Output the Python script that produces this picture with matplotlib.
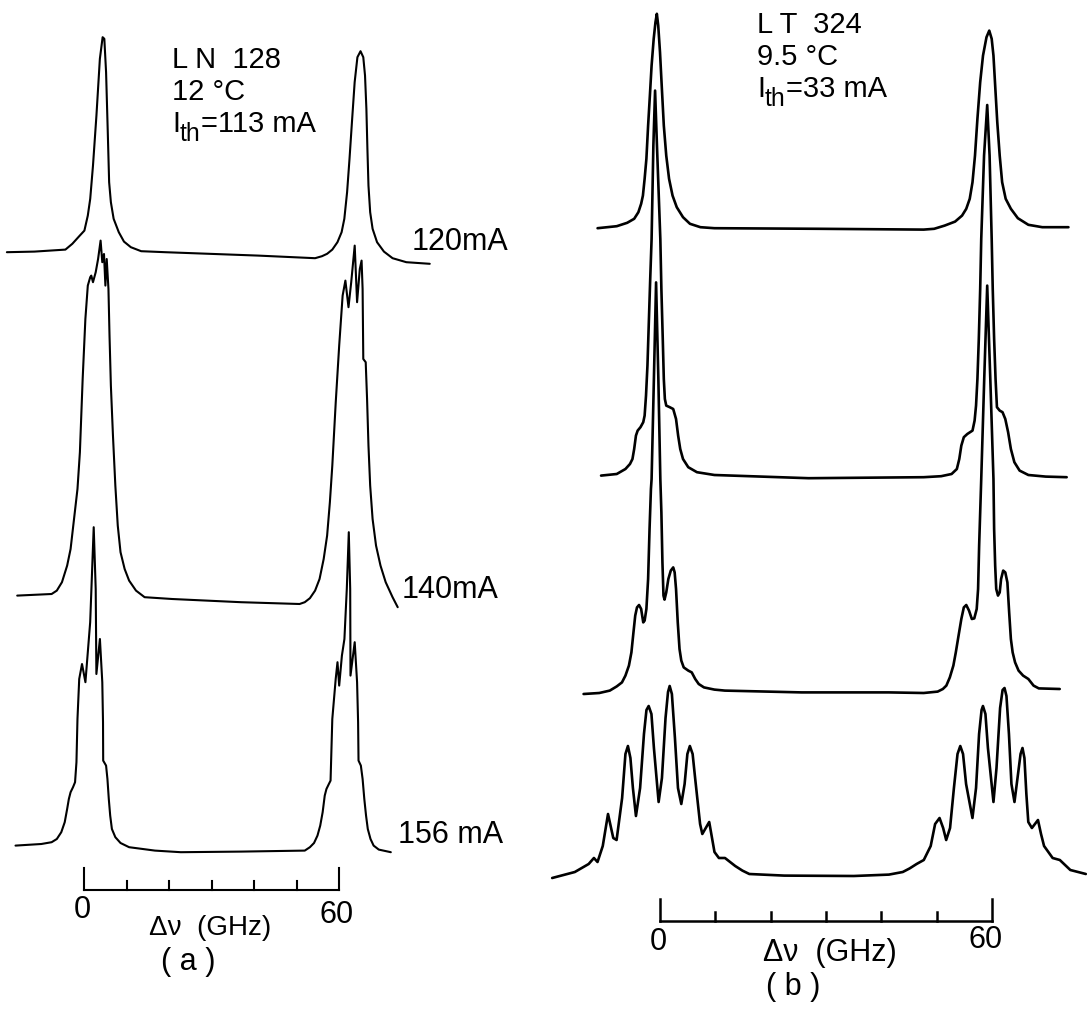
import matplotlib
matplotlib.use("Agg")
import matplotlib.pyplot as plt

plt.rcParams['font.family'] = ['Liberation Sans', 'DejaVu Sans']

# ---------------- data (frequency offset in GHz, intensity in a.u.) ----------------
# panel (a): LN 128, three drive currents
a_labels = ["120mA", "140mA", "156 mA"]
a120_x = [-18.24, -11.76, -4.47, -2.84, -1.22, 0.0, 0.80, 1.37, 2.02, 2.83, 3.64, 4.29, 4.69, 5.10, 5.50, 5.82,
          6.23, 6.88, 8.09, 9.31, 10.93, 13.36, 19.03, 40.91, 54.28, 55.90, 57.11, 58.33, 59.54, 60.52, 61.16,
          61.81, 62.38, 62.95, 63.59, 64.24, 64.97, 65.62, 66.03, 66.35, 66.59, 66.84, 67.24, 67.81, 68.86,
          70.48, 72.51, 75.75, 81.26]
a120_y = [0.0, 0.003, 0.013, 0.042, 0.08, 0.108, 0.183, 0.267, 0.433, 0.683, 0.967, 1.075, 1.067, 0.9, 0.6, 0.35,
          0.25, 0.167, 0.1, 0.053, 0.025, 0.005, 0.0, -0.017, -0.03, -0.02, -0.008, 0.013, 0.05, 0.1, 0.167,
          0.3, 0.467, 0.65, 0.85, 0.975, 1.005, 0.975, 0.883, 0.717, 0.517, 0.333, 0.2, 0.117, 0.05,
          0.003, -0.03, -0.05, -0.058]
a140_x = [-15.81, -7.71, -6.49, -5.28, -4.06, -3.25, -2.44, -1.63, -1.06, -0.41, 0.23, 0.80, 1.37, 1.62, 2.02,
          2.66, 3.22, 3.81, 4.21, 4.61, 4.94, 5.25, 5.66, 5.91, 6.23, 6.72, 7.28, 7.85, 8.50, 9.47, 10.52, 12.14,
          14.17, 20.65, 36.86, 50.63, 51.85, 53.06, 54.28, 55.33, 56.30, 57.11, 57.76, 58.33, 59.14, 59.95,
          60.76, 61.41, 62.14, 62.78, 63.60, 64.16, 64.80, 65.22, 65.46, 65.62, 66.19, 66.51, 66.84, 67.24,
          67.81, 68.62, 69.67, 70.89, 72.51, 73.72]
a140_y = [0.0, 0.008, 0.025, 0.067, 0.15, 0.233, 0.383, 0.533, 0.717, 1.083, 1.383, 1.55, 1.592, 1.6, 1.567,
          1.617, 1.683, 1.775, 1.667, 1.708, 1.55, 1.683, 1.533, 1.3, 1.05, 0.8, 0.55, 0.35, 0.217, 0.133, 0.075,
          0.025, -0.008, -0.017, -0.033, -0.042, -0.033, -0.013, 0.025, 0.083, 0.183, 0.3, 0.467, 0.65, 0.967,
          1.25, 1.5, 1.575, 1.442, 1.567, 1.75, 1.467, 1.633, 1.675, 1.533, 1.183, 1.167, 0.983, 0.75, 0.55,
          0.383, 0.25, 0.15, 0.067, -0.008, -0.058]
a156_x = [-16.21, -10.14, -7.71, -6.49, -5.44, -4.63, -4.06, -3.66, -3.25, -2.68, -2.20, -1.87, -1.63, -1.22,
          -0.56, 0.24, 1.36, 2.19, 2.66, 2.82, 3.65, 4.21, 4.38, 4.42, 5.10, 5.42, 5.74, 6.07, 6.47, 7.28, 8.50,
          10.52, 16.60, 22.68, 36.86, 51.85, 53.06, 54.03, 54.84, 55.49, 56.06, 56.55, 56.95, 57.52, 57.92,
          58.33, 59.13, 59.55, 59.95, 60.59, 61.18, 61.74, 62.21, 62.54, 62.61, 63.60, 64.16, 64.40, 64.50,
          65.05, 65.46, 65.86, 66.27, 66.68, 67.32, 68.05, 69.27, 72.10]
a156_y = [0.0, 0.008, 0.017, 0.033, 0.067, 0.117, 0.183, 0.233, 0.267, 0.292, 0.317, 0.417, 0.633, 0.833,
          0.908, 0.817, 1.117, 1.592, 1.283, 0.858, 1.033, 0.817, 0.617, 0.425, 0.4, 0.333, 0.233, 0.15, 0.083,
          0.042, 0.013, -0.008, -0.025, -0.033, -0.03, -0.025, -0.008, 0.013, 0.05, 0.1, 0.167, 0.25, 0.283,
          0.308, 0.325, 0.633, 0.833, 0.917, 0.8, 0.95, 1.033, 1.283, 1.567, 1.283, 0.85, 1.017, 0.817, 0.617,
          0.425, 0.4, 0.333, 0.233, 0.15, 0.083, 0.033, 0.0, -0.02, -0.033]

# panel (b): LT 324, four drive currents (top to bottom)
b1_x = [-11.29, -7.82, -5.93, -4.67, -3.91, -3.41, -3.09, -2.78, -2.46, -2.15, -1.83, -1.52, -1.14, -0.82, -0.57,
        -0.32, 0.0, 0.31, 0.69, 1.13, 1.64, 2.27, 3.03, 4.16, 5.42, 7.31, 9.84, 28.76, 47.68, 49.58, 51.47,
        53.36, 54.62, 55.38, 56.01, 56.51, 56.96, 57.40, 57.90, 58.41, 59.04, 59.54, 59.98, 60.30, 60.61,
        60.99, 61.43, 61.87, 62.51, 63.45, 64.71, 66.61, 69.13, 73.86]
b1_y = [0.0, 0.01, 0.027, 0.047, 0.08, 0.122, 0.163, 0.247, 0.347, 0.513, 0.663, 0.813, 0.947, 1.03, 1.072,
        1.013, 0.88, 0.713, 0.513, 0.363, 0.247, 0.163, 0.105, 0.055, 0.022, 0.005, 0.0, -0.003, -0.007, -0.003,
        0.013, 0.033, 0.063, 0.097, 0.147, 0.23, 0.363, 0.547, 0.73, 0.863, 0.955, 0.988, 0.947, 0.863, 0.713,
        0.53, 0.363, 0.23, 0.147, 0.097, 0.05, 0.017, 0.005, 0.005]
b2_x = [-10.66, -7.82, -6.25, -5.43, -4.98, -4.67, -4.35, -4.04, -3.53, -3.03, -2.78, -2.53, -2.27, -2.02, -1.77,
        -1.52, -1.20, -0.89, -0.55, 0.06, 0.25, 0.50, 0.69, 0.88, 1.13, 1.76, 2.39, 2.90, 3.28, 3.66, 4.16,
        5.11, 6.68, 9.84, 26.87, 47.68, 50.84, 52.73, 53.68, 54.12, 54.49, 54.94, 55.57, 56.51, 56.89, 57.15,
        57.40, 57.65, 57.90, 58.09, 58.60, 59.17, 59.60, 59.98, 60.17, 60.42, 60.68, 60.93, 61.43, 61.94,
        62.44, 62.95, 63.45, 64.08, 65.03, 66.61, 69.76, 73.54]
b2_y = [0.0, 0.008, 0.033, 0.058, 0.083, 0.133, 0.2, 0.225, 0.242, 0.267, 0.3, 0.4, 0.55, 0.767, 0.983, 1.183,
        1.65, 1.925, 1.65, 1.183, 0.933, 0.683, 0.483, 0.383, 0.35, 0.342, 0.333, 0.283, 0.2, 0.133, 0.083,
        0.042, 0.017, 0.003, -0.013, -0.008, -0.003, 0.008, 0.033, 0.083, 0.15, 0.192, 0.208, 0.225, 0.275,
        0.35, 0.483, 0.683, 0.933, 1.183, 1.6, 1.853, 1.6, 1.183, 0.933, 0.683, 0.483, 0.342, 0.325, 0.317,
        0.283, 0.217, 0.133, 0.067, 0.025, 0.003, -0.005, -0.008]
b3_x = [-13.82, -10.98, -9.08, -7.82, -6.88, -6.25, -5.62, -5.17, -4.80, -4.48, -4.16, -3.79, -3.41, -3.03,
        -2.78, -2.46, -2.15, -1.89, -1.64, -1.52, -1.10, -0.71, -0.30, 0.06, 0.25, 0.44, 0.63, 0.82, 1.13, 1.51,
        1.95, 2.39, 2.65, 2.90, 3.21, 3.53, 3.85, 4.29, 5.11, 5.74, 6.37, 7.00, 7.95, 9.84, 11.73, 25.61, 41.38,
        47.68, 50.21, 51.15, 51.78, 52.41, 53.05, 53.49, 53.99, 54.49, 54.94, 55.38, 55.88, 56.39, 56.83, 57.27,
        57.52, 57.71, 57.90, 58.09, 58.63, 59.17, 59.73, 60.30, 60.42, 60.61, 60.80, 61.12, 61.43, 61.68, 62.06,
        62.44, 62.82, 63.14, 63.45, 63.77, 64.21, 64.84, 65.66, 66.61, 67.55, 68.50, 72.28]
b3_y = [-0.01, -0.005, 0.007, 0.028, 0.048, 0.082, 0.132, 0.198, 0.298, 0.382, 0.423, 0.435, 0.415, 0.348,
        0.357, 0.415, 0.565, 0.815, 1.015, 1.065, 1.57, 2.048, 1.57, 1.065, 0.898, 0.648, 0.482, 0.462, 0.498,
        0.565, 0.607, 0.623, 0.598, 0.515, 0.348, 0.215, 0.157, 0.123, 0.107, 0.098, 0.065, 0.04, 0.023, 0.012,
        0.007, -0.002, -0.002, -0.005, 0.002, 0.015, 0.032, 0.073, 0.132, 0.198, 0.282, 0.365, 0.423, 0.435,
        0.407, 0.365, 0.368, 0.415, 0.515, 0.732, 0.898, 1.065, 1.565, 2.032, 1.565, 1.065, 0.815, 0.632, 0.515,
        0.482, 0.498, 0.565, 0.607, 0.598, 0.548, 0.398, 0.265, 0.198, 0.148, 0.107, 0.082, 0.065, 0.032,
        0.018, 0.015]
b4_x = [-19.5, -15.4, -12.9, -11.95, -11.3, -10.35, -9.4, -8.45, -7.85, -6.85, -6.25, -5.8, -5.35, -4.9, -4.35,
        -3.6, -2.9, -2.45, -2.05, -1.55, -1.1, -0.25, 0.35, 1.0, 1.45, 1.75, 2.15, 2.7, 3.25, 3.85, 4.45, 4.95,
        5.4, 5.9, 6.35, 6.7, 7.25, 7.65, 8.9, 9.85, 10.65, 11.75, 13.6, 14.9, 16.15, 22.45, 35.05, 41.4, 43.9,
        45.15, 46.4, 47.7, 48.95, 49.75, 50.55, 51.2, 51.75, 52.45, 53.15, 53.8, 54.3, 54.8, 55.35, 56.5, 57.15,
        57.7, 58.15, 58.4, 58.85, 59.3, 60.3, 60.85, 61.5, 61.95, 62.3, 62.65, 63.1, 63.55, 64.1, 64.65, 65.2,
        65.55, 65.9, 66.25, 66.6, 67.25, 68.35, 68.9, 69.45, 71.0, 72.3, 74.2, 77.0]
b4_y = [-0.02, 0.01, 0.05, 0.08, 0.06, 0.14, 0.30, 0.18, 0.17, 0.38, 0.60, 0.64, 0.58, 0.43, 0.29,
        0.43, 0.70, 0.82, 0.84, 0.80, 0.63, 0.36, 0.48, 0.78, 0.91, 0.94, 0.90, 0.68, 0.43, 0.35, 0.45, 0.60,
        0.64, 0.60, 0.48, 0.39, 0.25, 0.20, 0.26, 0.11, 0.08, 0.08, 0.04, 0.017, 0.0, -0.008, -0.01, -0.003,
        0.01, 0.028, 0.05, 0.07, 0.14, 0.25, 0.28, 0.23, 0.17, 0.23, 0.43, 0.60, 0.64, 0.60, 0.45, 0.28, 0.43,
        0.70, 0.82, 0.84, 0.80, 0.63, 0.36, 0.53, 0.83, 0.92, 0.93, 0.89, 0.70, 0.45, 0.36, 0.48, 0.60, 0.63,
        0.58, 0.40, 0.26, 0.23, 0.27, 0.20, 0.14, 0.08, 0.07, 0.02, 0.0]

scale_ticks = [0, 10, 20, 30, 40, 50, 60]
scale_labels = ["0", "60"]

# ---------------- layout ----------------
W, H = 1087, 1012
fig = plt.figure(figsize=(W / 100, H / 100), dpi=100)
fig.patch.set_facecolor("white")


def px(x, y):
    return x / W, 1 - y / H


ax_a = fig.add_axes([0, 0, 540 / W, 1])
ax_b = fig.add_axes([540 / W, 0, 547 / W, 1])
ax_a.set_xlim((0 - 84.4) / 4.25, (540 - 84.4) / 4.25)
ax_b.set_xlim((540 - 660) / 5.53, (1087 - 660) / 5.53)
for ax in (ax_a, ax_b):
    ax.set_ylim(0, H / 200)
    ax.axis("off")

a_offsets = [3.794, 2.077, 0.827]
b_offsets = [3.914, 2.677, 1.595, 0.685]

for (xs, ys), off in zip([(a120_x, a120_y), (a140_x, a140_y), (a156_x, a156_y)], a_offsets):
    ax_a.plot(xs, [off + v for v in ys], color="black", lw=1.5,
              solid_joinstyle="round", solid_capstyle="round")
for (xs, ys), off in zip([(b1_x, b1_y), (b2_x, b2_y), (b3_x, b3_y), (b4_x, b4_y)], b_offsets):
    ax_b.plot(xs, [off + v for v in ys], color="black", lw=1.9,
              solid_joinstyle="round", solid_capstyle="round")


def scale_bar(ax, ybar, end_h, small_h, lw):
    ax.plot([scale_ticks[0], scale_ticks[-1]], [ybar, ybar], color="black", lw=lw)
    for t in scale_ticks:
        h = end_h if t in (scale_ticks[0], scale_ticks[-1]) else small_h
        ax.plot([t, t], [ybar, ybar + h], color="black", lw=lw)


scale_bar(ax_a, 0.605, 0.11, 0.045, 1.5)
scale_bar(ax_b, 0.45, 0.11, 0.045, 1.8)

# tick labels and axis titles
ax_a.text(-0.6, 0.51, scale_labels[0], fontsize=22, ha="center", va="center")
ax_a.text(59.4, 0.485, scale_labels[1], fontsize=22, ha="center", va="center")
ax_a.text(29.6, 0.42, "Δν  (GHz)", fontsize=20, ha="center", va="center")
ax_a.text(24.4, 0.25, "( a )", fontsize=22, ha="center", va="center")

ax_b.text(-0.36, 0.35, scale_labels[0], fontsize=22, ha="center", va="center")
ax_b.text(58.8, 0.36, scale_labels[1], fontsize=22, ha="center", va="center")
ax_b.text(30.7, 0.295, "Δν  (GHz)", fontsize=22, ha="center", va="center")
ax_b.text(24.05, 0.125, "( b )", fontsize=22, ha="center", va="center")

# current labels (panel a)
for lab, (lx, ly) in zip(a_labels, [(411.7, 241.7), (401.2, 590), (397.7, 835)]):
    fig.text(*px(lx, ly), lab, fontsize=22, ha="left", va="center")

# device annotations
renderer = fig.canvas.get_renderer()


def rich(x0, ybase, pieces, size):
    x = x0
    for s, scale, dy in pieces:
        t = fig.text(*px(x, ybase + dy), s, fontsize=size * scale, ha="left", va="baseline")
        x = t.get_window_extent(renderer=renderer).x1


rich(172, 68, [("L N  128", 1, 0)], 21)
rich(172, 100, [("12 °C", 1, 0)], 21)
rich(172, 131.7, [("I", 1, 0), ("th", 0.85, 9), ("=113 mA", 1, 0)], 21)

rich(757, 33, [("L T  324", 1, 0)], 21)
rich(757, 65, [("9.5 °C", 1, 0)], 21)
rich(757, 96.7, [("I", 1, 0), ("th", 0.85, 9), ("=33 mA", 1, 0)], 21)

fig.savefig("out.png", dpi=100, facecolor="white")
